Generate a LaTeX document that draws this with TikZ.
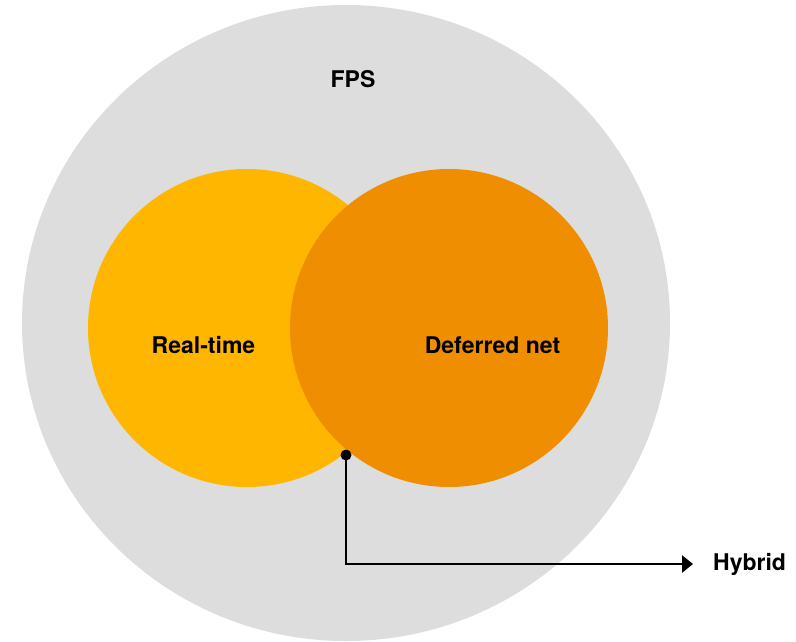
\documentclass[tikz,border=0pt]{standalone}
\usepackage{fontspec}
\setmainfont{TeX Gyre Heros}
\usetikzlibrary{arrows.meta,positioning}

\definecolor{fpsgrey}{HTML}{DDDDDD}
\definecolor{rtyellow}{HTML}{FFB600}
\definecolor{dforange}{HTML}{EE8E00}

\begin{document}
\begin{tikzpicture}[
    x=1pt, y=-1pt,
    >={Triangle[length=11pt,width=17pt]},
    every node/.style={font=\fontsize{23}{27}\selectfont\bfseries},
    venn/.style={
        circle,
        inner sep=0pt,
        minimum size=318pt
    },
    lbl/.style={inner sep=0pt},
    line/.style={->, line width=2.7pt}
]
\useasboundingbox (0,0) rectangle (796,641);

% Outer set
\fill[fpsgrey] (346,323) ellipse [x radius=324, y radius=318];
\node[lbl] (fps) at (353,79) {FPS};

% Inner sets
\node[venn, fill=rtyellow] (rt) at (247,328) {};
\node[venn, fill=dforange] (df) at (449,328) {};

\node[lbl] (rtlabel) at (203.5,345) {Real-time};
\node[lbl] (dflabel) at (492.5,345) {Deferred net};

% Hybrid pointer
\coordinate (hyb) at (346,455);
\node[lbl, anchor=west, inner xsep=20pt] (hybrid) at (693,564) {Hybrid};

\fill (hyb) circle (5.5);
\draw[line] (hyb) |- (hybrid.west);

\end{tikzpicture}
\end{document}
